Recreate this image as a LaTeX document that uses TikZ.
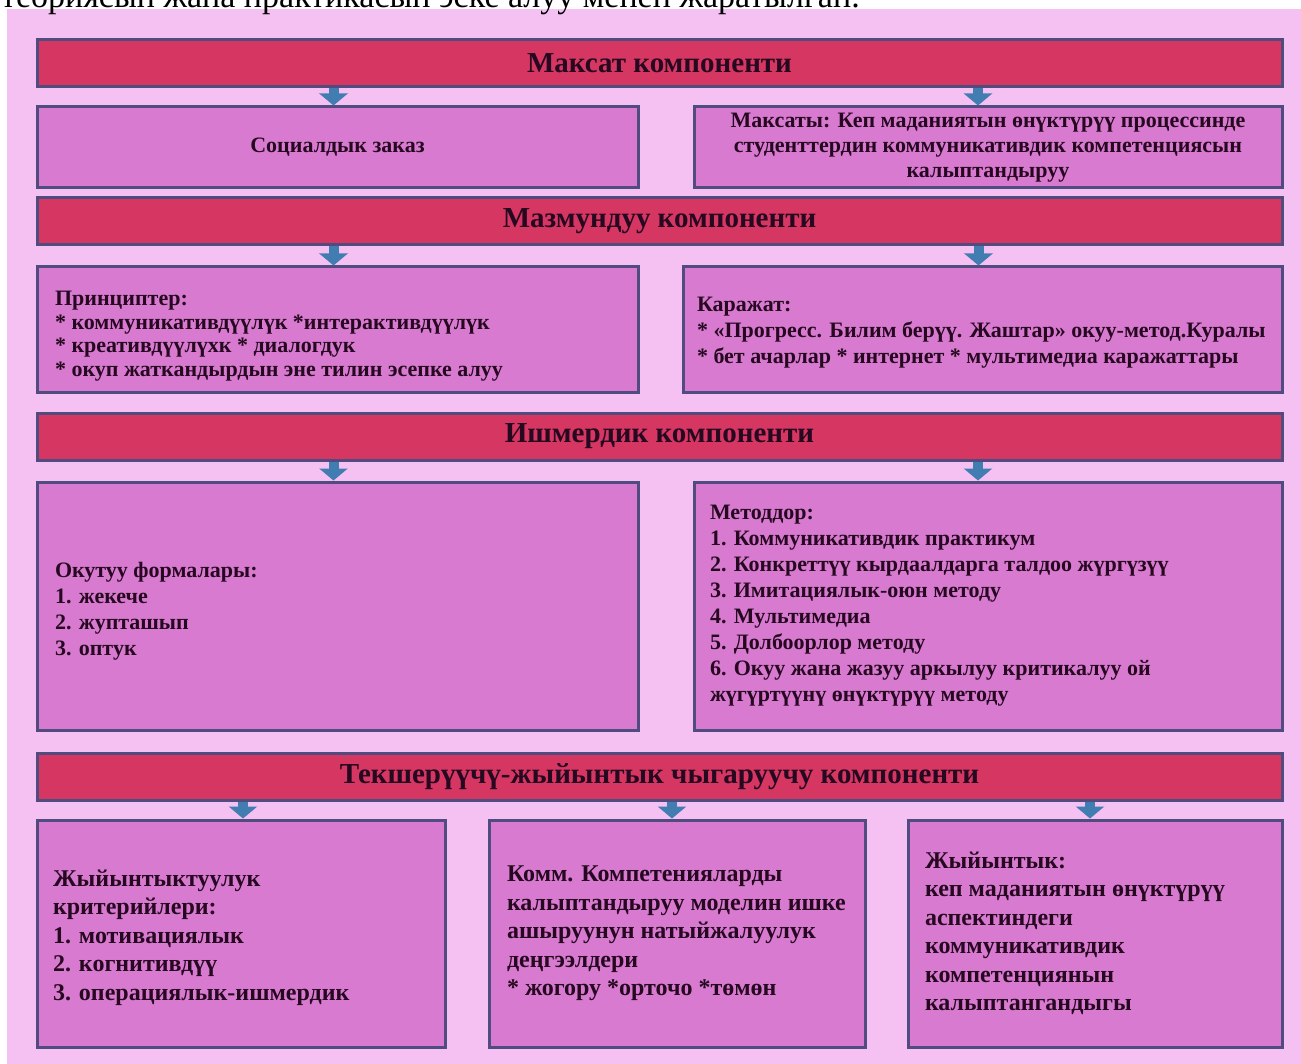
\documentclass[tikz,border=0pt]{standalone}
\usepackage{fontspec}
\setmainfont{Liberation Serif}
\usetikzlibrary{positioning, backgrounds, arrows.meta}

\begin{document}
\begin{tikzpicture}[
    x=1pt, y=-1pt,
    % --- Farbdefinitionen ---
    pageFill/.style={fill={rgb,255:red,245;green,192;blue,242}},
    barFill/.style={fill={rgb,255:red,213;green,54;blue,98}, draw={rgb,255:red,80;green,76;blue,128}},
    boxFill/.style={fill={rgb,255:red,216;green,122;blue,208}, draw={rgb,255:red,80;green,76;blue,128}},
    % --- Knotenstile ---
    base/.style={line width=3pt, inner sep=0pt, text={rgb,255:red,38;green,8;blue,32}},
    header/.style={base, barFill, minimum width=1245pt, minimum height=47pt, font=\bfseries\fontsize{29}{34}\selectfont},
    boxFrame/.style={base, boxFill},
    centerText/.style={boxFrame, align=center, font=\bfseries\fontsize{22}{25}\selectfont},
    listText/.style={base, anchor=west, align=left, font=\bfseries\fontsize{22}{26}\selectfont},
    wideText/.style={listText, font=\bfseries\fontsize{24}{28.5}\selectfont},
    % --- Pfeilstil ---
    arrow_style/.style={-{Triangle[width=28pt, length=12pt]}, line width=10pt, draw={rgb,255:red,66;green,125;blue,178}}
]
    \useasboundingbox (0,0) rectangle (1301,1064);
    \clip (0,0) rectangle (1301,1064);

    % Zeile der vorherigen Seite (oben abgeschnitten)
    \node[anchor=base west, inner sep=0pt, font=\fontsize{34}{40}\selectfont] (prevLine) at (1,8) {теориясын жана практикасын эске алуу менен жаратылган.};

    % ===========================
    % 1. KOMPONENTEN-BALKEN
    % ===========================
    \node[header] (goalBar) at (659.5,63.5)  {Максат компоненти};
    \node[header] (contBar) at (659.5,221.5) {Мазмундуу компоненти};
    \node[header] (actBar)  at (659.5,436.5) {Ишмердик компоненти};
    \node[header] (evalBar) at (659.5,776.5) {Текшерүүчү-жыйынтык чыгаруучу компоненти};

    % ===========================
    % 2. INHALTSBOXEN
    % ===========================
    % Zeile 1
    \node[centerText, minimum width=601pt, minimum height=81pt] (social) at (337.5,147.5) {Социалдык заказ};
    \node[centerText, minimum width=588pt, minimum height=81pt] (aim)    at (988,147.5)   {Максаты: Кеп маданиятын өнүктүрүү процессинде\\студенттердин коммуникативдик компетенциясын\\калыптандыруу};

    % Zeile 2
    \node[boxFrame, minimum width=601pt, minimum height=126pt] (principles) at (337.5,330) {};
    \node[listText, right=18pt of principles.west, yshift=-6pt, font=\bfseries\fontsize{22}{23.5}\selectfont] (principlesText) {Принциптер:\\* коммуникативдүүлүк *интерактивдүүлүк\\* креативдүүлүхк * диалогдук\\* окуп жаткандырдын эне тилин эсепке алуу};
    \node[boxFrame, minimum width=599pt, minimum height=126pt] (means) at (982.5,330) {};
    \node[listText, right=14pt of means.west, yshift=-3pt] (meansText) {Каражат:\\* «Прогресс. Билим берүү. Жаштар» окуу-метод.Куралы\\* бет ачарлар * интернет * мультимедиа каражаттары};

    % Zeile 3
    \node[boxFrame, minimum width=601pt, minimum height=248pt] (forms) at (337.5,606) {};
    \node[listText, right=18pt of forms.west, yshift=-5pt] (formsText) {Окутуу формалары:\\1. жекече\\2. жуптaшып\\3. оптук};
    \node[boxFrame, minimum width=588pt, minimum height=248pt] (methods) at (988,606) {};
    \node[listText, right=16pt of methods.west] (methodsText) {Методдор:\\1. Коммуникативдик практикум\\2. Конкреттүү кырдаалдарга талдоо жүргүзүү\\3. Имитациялык-оюн методу\\4. Мультимедиа\\5. Долбоорлор методу\\6. Окуу жана жазуу аркылуу критикалуу ой\\жүгүртүүнү өнүктүрүү методу};

    % Zeile 4
    \node[boxFrame, minimum width=408pt, minimum height=227pt] (criteria) at (241,933.5) {};
    \node[wideText, right=16pt of criteria.west, yshift=-4pt] (criteriaText) {Жыйынтыктуулук\\критерийлери:\\1. мотивациялык\\2. когнитивдүү\\3. операциялык-ишмердик};
    \node[boxFrame, minimum width=376pt, minimum height=227pt] (levels) at (677,933.5) {};
    \node[wideText, right=18pt of levels.west] (levelsText) {Комм. Компетенияларды\\калыптандыруу моделин ишке\\ашыруунун натыйжалуулук\\деңгээлдери\\* жогору *орточо *төмөн};
    \node[boxFrame, minimum width=374pt, minimum height=227pt] (result) at (1095,933.5) {};
    \node[wideText, right=17pt of result.west] (resultText) {Жыйынтык:\\кеп маданиятын өнүктүрүү\\аспектиндеги\\коммуникативдик\\компетенциянын\\калыптангандыгы};

    % ===========================
    % 3. PFEILE (Balken -> Box)
    % ===========================
    \draw[arrow_style] ([xshift=-4pt]goalBar.south -| social.north) -- ([xshift=-4pt]social.north);
    \draw[arrow_style] ([xshift=-10pt]goalBar.south -| aim.north) -- ([xshift=-10pt]aim.north);
    \draw[arrow_style] ([xshift=-4pt]contBar.south -| principles.north) -- ([xshift=-4pt]principles.north);
    \draw[arrow_style] ([xshift=-4pt]contBar.south -| means.north) -- ([xshift=-4pt]means.north);
    \draw[arrow_style] ([xshift=-4pt]actBar.south -| forms.north) -- ([xshift=-4pt]forms.north);
    \draw[arrow_style] ([xshift=-10pt]actBar.south -| methods.north) -- ([xshift=-10pt]methods.north);
    \draw[arrow_style] ([xshift=2pt]evalBar.south -| criteria.north) -- ([xshift=2pt]criteria.north);
    \draw[arrow_style] ([xshift=-5pt]evalBar.south -| levels.north) -- ([xshift=-5pt]levels.north);
    \draw[arrow_style] ([xshift=-5pt]evalBar.south -| result.north) -- ([xshift=-5pt]result.north);

    % ===========================
    % 4. HINTERGRUND (Folie)
    % ===========================
    \begin{scope}[on background layer]
        \fill[pageFill] (7,9) rectangle (1301,1064);
    \end{scope}

\end{tikzpicture}
\end{document}
